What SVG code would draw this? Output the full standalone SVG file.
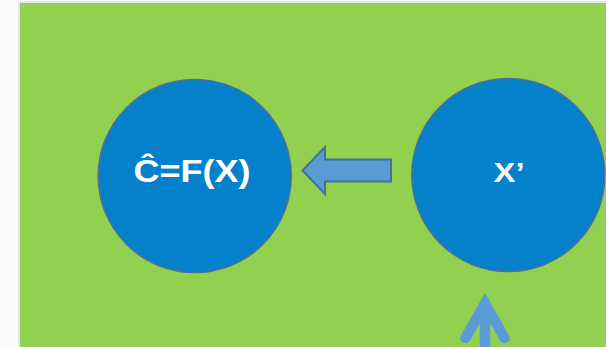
<svg xmlns="http://www.w3.org/2000/svg" width="606" height="347" viewBox="0 0 606 347">
  <defs>
    <style>
      .node { fill: #0580cb; stroke: #4a6f9a; stroke-width: 1.5; }
      .label { fill: #ffffff; font-family: "Liberation Sans", Arial, sans-serif; font-weight: bold; text-anchor: middle; }
      .block-arrow { fill: #5b9bd5; stroke: #41719c; stroke-width: 2; stroke-linejoin: miter; }
      .line-arrow { fill: none; stroke: #5b9bd5; stroke-width: 10.5; }
    </style>
  </defs>

  <!-- page and slide background -->
  <rect x="0" y="0" width="606" height="347" fill="#fafafa"/>
  <rect x="18" y="1" width="590" height="350" fill="#dbe5f3"/>
  <rect x="20" y="3" width="588" height="350" fill="#92d050"/>

  <!-- connectors -->
  <g id="connectors">
    <path class="block-arrow" d="M302.5,170.5 L325,147 L325,159.5 L391,159.5 L391,181.5 L325,181.5 L325,194 Z"/>
    <g id="input-arrow">
      <line class="line-arrow" x1="485" y1="306" x2="485" y2="352"/>
      <polyline class="line-arrow" points="465.5,338 485,303.5 504.5,338" stroke-linecap="round" stroke-linejoin="miter"/>
    </g>
  </g>

  <g id="node-estimate">
    <circle class="node" cx="194.7" cy="176" r="96.5"/>
    <text class="label" x="192" y="181.5" font-size="31" textLength="117" lengthAdjust="spacingAndGlyphs">Ĉ=F(X)</text>
  </g>

  <g id="node-input">
    <circle class="node" cx="508.3" cy="175" r="96.5"/>
    <text class="label" x="509" y="181.5" font-size="27" textLength="31" lengthAdjust="spacingAndGlyphs">X’</text>
  </g>
</svg>
